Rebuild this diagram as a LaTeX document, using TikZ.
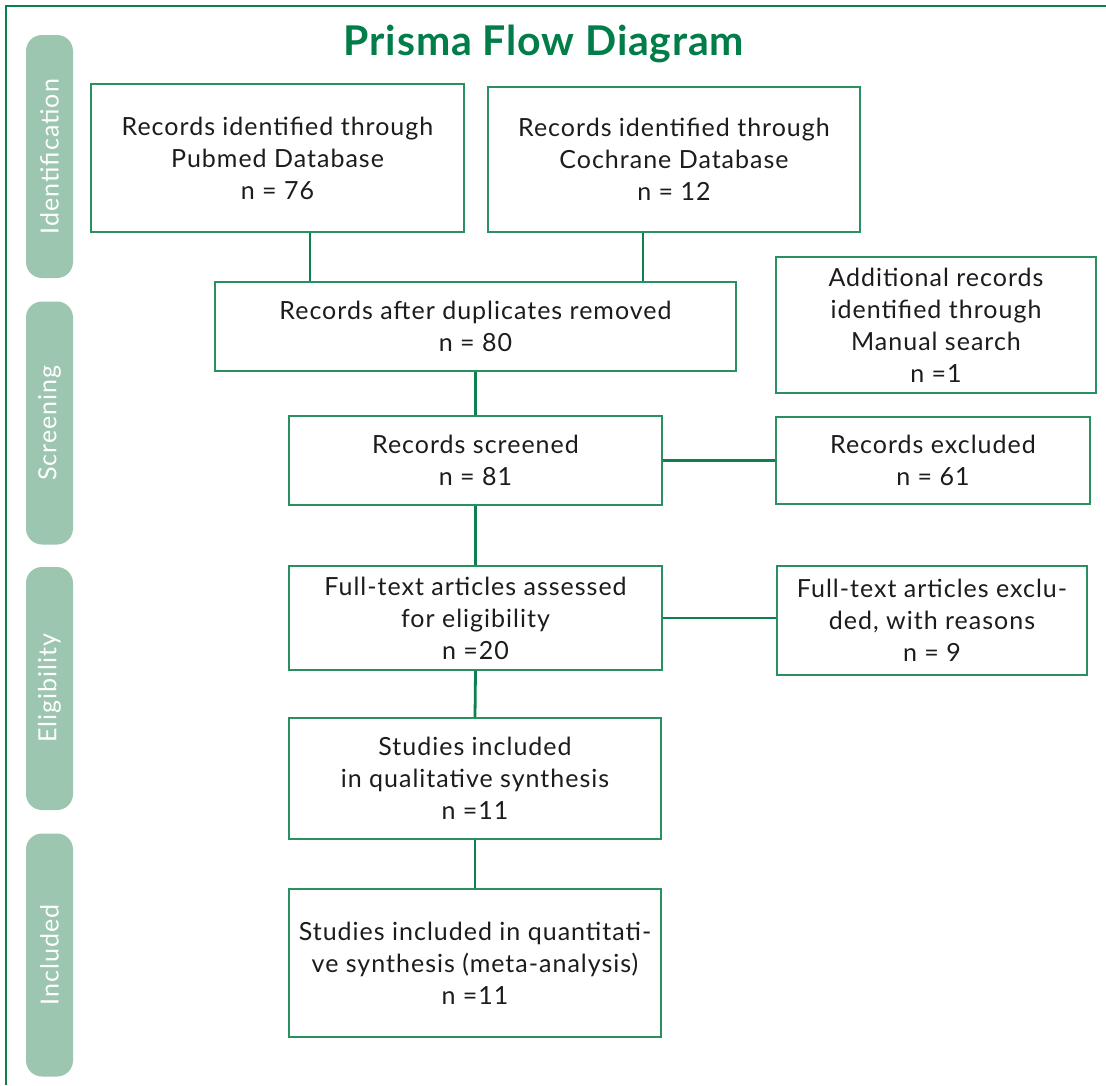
\documentclass[tikz,border=0pt]{standalone}
\usepackage{fontspec}
\setmainfont{Lato}
\newfontfamily\bodyfont{Lato}[LetterSpace=4]
\newfontfamily\titlefont{Lato}[LetterSpace=2]
\definecolor{titlegreen}{RGB}{0,125,72}
\definecolor{linegreen}{RGB}{14,128,78}
\definecolor{boxgreen}{RGB}{40,145,95}
\definecolor{pillgreen}{RGB}{156,198,175}
\definecolor{txtcol}{RGB}{28,28,28}
\tikzset{
  box/.style={draw=boxgreen, line width=1.5pt, fill=white, align=center, text=txtcol,
    font=\bodyfont\fontsize{25}{32}\selectfont, inner sep=0pt},
  conn/.style={draw=linegreen, line width=2.8pt},
  frame/.style={draw=linegreen, line width=2pt},
  pill/.style={fill=pillgreen, rounded corners=16pt, rotate=90, minimum width=243pt,
    minimum height=47pt, text=white, font=\bodyfont\fontsize{25}{28}\selectfont, inner sep=0pt},
  ttl/.style={text=titlegreen, font=\titlefont\fontsize{41}{44}\selectfont\bfseries}
}
\begin{document}
\begin{tikzpicture}[x=1pt,y=-1pt]
\useasboundingbox (0,0) rectangle (1106,1085);
\draw[frame] (6,1085) -- (6,6) -- (1106,6);

\node[ttl, anchor=base] (title) at (544,55) {Prisma Flow Diagram};

\node[pill] (p1) at (49.5,156.5) {Identification};
\node[pill] (p2) at (49.5,423) {Screening};
\node[pill] (p3) at (49.5,688.5) {Eligibility};
\node[pill] (p4) at (49.5,955) {Included};

\node[box, minimum width=373pt, minimum height=148pt] (pub) at (277.5,158)
  {Records identified through\\Pubmed Database\\n = 76};
\node[box, minimum width=372pt, minimum height=145pt] (coch) at (674,159.5)
  {Records identified through\\Cochrane Database\\n = 12};
\node[box, minimum width=521pt, minimum height=89pt] (dup) at (475.5,326.5)
  {Records after duplicates removed\\n = 80};
\node[box, minimum width=320pt, minimum height=136pt] (man) at (936,325)
  {Additional records\\identified through\\Manual search\\n =1};
\node[box, minimum width=373pt, minimum height=89pt] (scr) at (475.5,460.5)
  {Records screened\\n = 81};
\node[box, minimum width=314pt, minimum height=87pt] (exc) at (933,460.5)
  {Records excluded\\n = 61};
\node[box, minimum width=373pt, minimum height=104pt] (ft) at (475.5,618)
  {Full-text articles assessed\\for eligibility\\n =20};
\node[box, minimum width=310pt, minimum height=109pt] (ftx) at (932,620.5)
  {Full-text articles exclu-\\ded, with reasons\\n = 9};
\node[box, minimum width=372pt, minimum height=121pt] (qual) at (475,778.5)
  {Studies included\\in qualitative synthesis\\n =11};
\node[box, minimum width=372pt, minimum height=148pt] (quan) at (475,963)
  {Studies included in quantitati-\\ve synthesis (meta-analysis)\\n =11};

\coordinate (xa) at (310,0);
\coordinate (xb) at (643,0);
\draw[conn] (xa |- pub.south) -- (xa |- dup.north);
\draw[conn] (xb |- coch.south) -- (xb |- dup.north);
\draw[conn] (dup.south) -- (scr.north);
\draw[conn] (scr.east) -- (exc.west);
\draw[conn] (scr.south) -- (ft.north);
\draw[conn] (ft.east) -- (ft.east -| ftx.west);
\draw[conn] (ft.south) -- (qual.north);
\draw[conn] (qual.south) -- (quan.north);
\end{tikzpicture}
\end{document}
